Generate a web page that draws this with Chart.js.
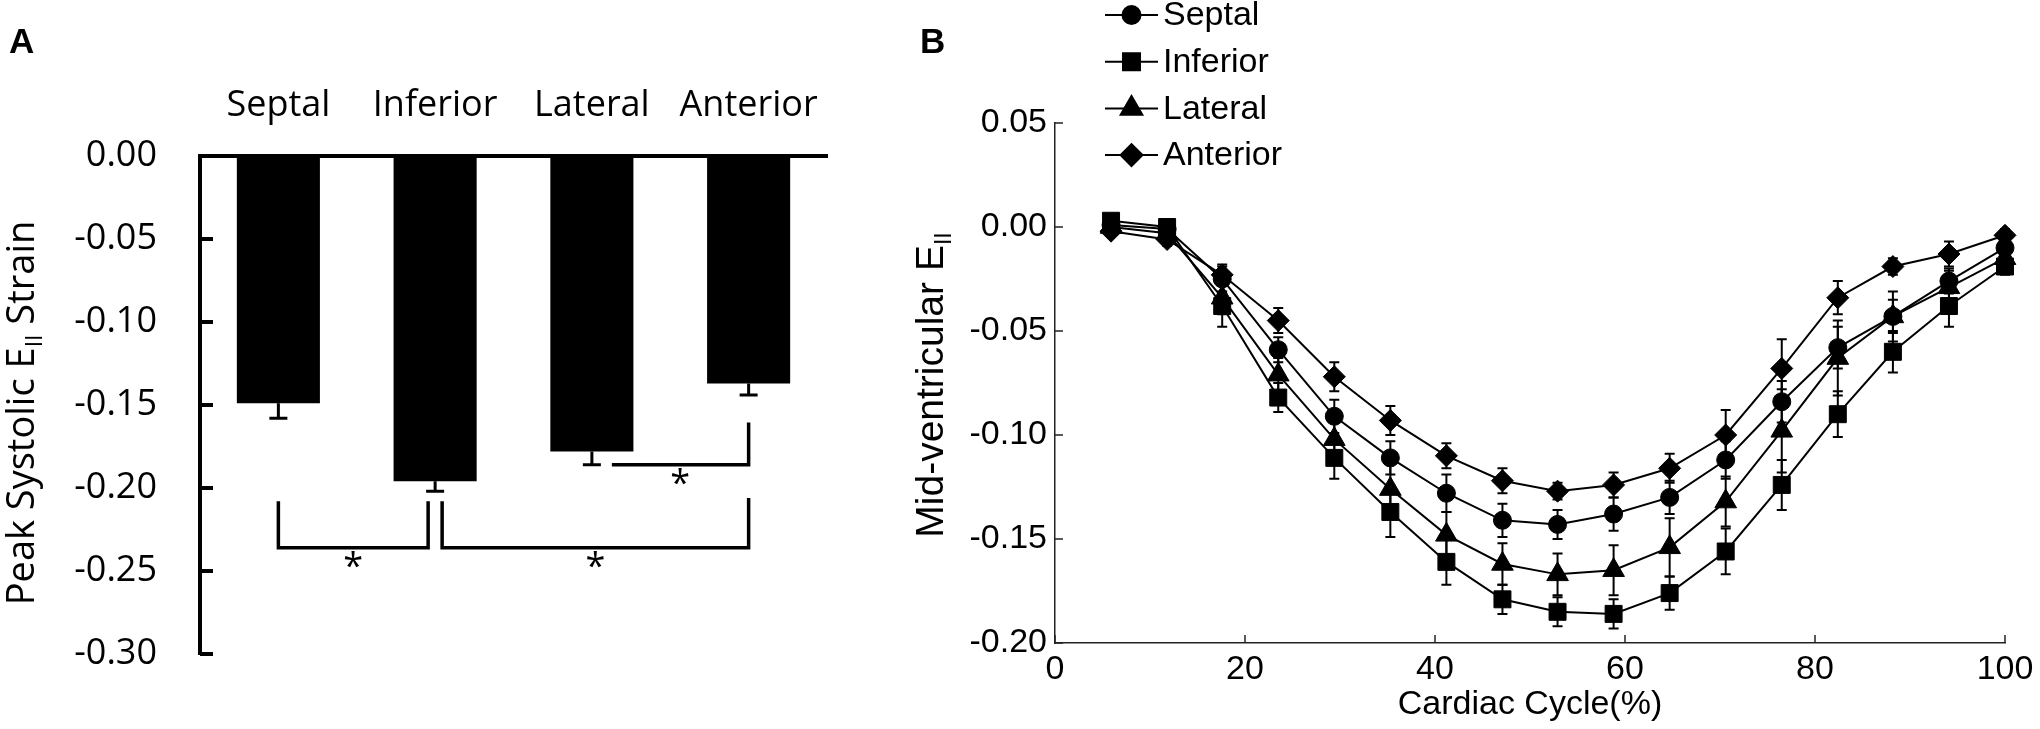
<!DOCTYPE html>
<html>
<head>
<meta charset="utf-8">
<script src="https://cdn.jsdelivr.net/npm/chart.js@4.4.1/dist/chart.umd.min.js"></script>
<style>
  html, body { margin: 0; padding: 0; background: #fff; }
  #wrap { position: relative; width: 2040px; height: 729px; }
  #panelA { position: absolute; left: 0; top: 0; }
  #panelB { position: absolute; left: 880px; top: 0; }
</style>
</head>
<body>
<div id="wrap">
  <canvas id="panelA" width="880" height="729"></canvas>
  <canvas id="panelB" width="1160" height="729"></canvas>
</div>
<script>
// --- panel A: peak systolic strain by region ---
const regions = ['Septal', 'Inferior', 'Lateral', 'Anterior'];
const peakStrain = [-0.149, -0.196, -0.178, -0.137];
const peakErr = [0.009, 0.006, 0.008, 0.007];
const strainTicks = [0, -0.05, -0.10, -0.15, -0.20, -0.25, -0.30];

// significance brackets (bar index from/to, leg ends, bar level)
const bracketFrom = [0, 1, 2];
const bracketTo = [1, 3, 3];
const bracketTopFrom = [-0.208, -0.208, -0.186];
const bracketTopTo = [-0.208, -0.206, -0.1605];
const bracketLevel = [-0.236, -0.236, -0.186];

// --- panel B: mid-ventricular strain over the cardiac cycle ---
const cycle = [5.9, 11.8, 17.6, 23.5, 29.4, 35.3, 41.2, 47.1, 52.9, 58.8, 64.7, 70.6, 76.5, 82.4, 88.2, 94.1, 100];
const septal   = [0.001, -0.001, -0.025, -0.059, -0.091, -0.111, -0.128, -0.141, -0.143, -0.138, -0.130, -0.112, -0.084, -0.058, -0.043, -0.026, -0.010];
const inferior = [0.003, 0.000, -0.038, -0.082, -0.111, -0.137, -0.161, -0.179, -0.185, -0.186, -0.176, -0.156, -0.124, -0.090, -0.060, -0.038, -0.019];
const lateral  = [0.000, -0.003, -0.034, -0.071, -0.102, -0.126, -0.148, -0.162, -0.167, -0.165, -0.154, -0.132, -0.098, -0.063, -0.043, -0.029, -0.015];
const anterior = [-0.002, -0.006, -0.023, -0.045, -0.072, -0.093, -0.110, -0.122, -0.127, -0.124, -0.116, -0.100, -0.068, -0.034, -0.019, -0.013, -0.004];
const septalErr   = [0.002, 0.004, 0.006, 0.006, 0.008, 0.008, 0.009, 0.008, 0.007, 0.008, 0.008, 0.009, 0.010, 0.010, 0.008, 0.006, 0.004];
const inferiorErr = [0.002, 0.003, 0.010, 0.007, 0.010, 0.012, 0.011, 0.007, 0.007, 0.007, 0.008, 0.011, 0.012, 0.011, 0.010, 0.010, 0.004];
const lateralErr  = [0.002, 0.004, 0.008, 0.008, 0.010, 0.012, 0.011, 0.010, 0.010, 0.012, 0.014, 0.012, 0.020, 0.018, 0.012, 0.008, 0.005];
const anteriorErr = [0.002, 0.003, 0.005, 0.006, 0.007, 0.007, 0.006, 0.006, 0.004, 0.006, 0.007, 0.012, 0.014, 0.008, 0.004, 0.006, 0.003];
const cycleTicks = [0, 20, 40, 60, 80, 100];
const midTicks = [0.05, 0, -0.05, -0.10, -0.15, -0.20];

const fontA = '"Open Sans"';
const fontB = '"Liberation Sans"';

// rotated axis title with an "II" subscript
function drawRotatedTitle(ctx, cx, cy, parts, family, size) {
  ctx.save();
  ctx.translate(cx, cy);
  ctx.rotate(-Math.PI / 2);
  ctx.fillStyle = '#000';
  ctx.textBaseline = 'alphabetic';
  ctx.textAlign = 'left';
  const fontFor = sub => (sub ? Math.round(size * 0.6) : size) + 'px ' + family;
  const widths = parts.map(([t, sub]) => { ctx.font = fontFor(sub); return ctx.measureText(t).width; });
  let xx = -widths.reduce((a, b) => a + b, 0) / 2;
  parts.forEach(([t, sub], i) => {
    ctx.font = fontFor(sub);
    ctx.fillText(t, xx, sub ? size * 0.2 : 0);
    xx += widths[i];
  });
  ctx.restore();
}

const panelAExtras = {
  id: 'panelAExtras',
  afterDatasetsDraw(chart) {
    const { ctx, scales: { x, y } } = chart;
    const meta = chart.getDatasetMeta(0);
    ctx.save();
    ctx.strokeStyle = '#000';

    // one-sided error bars
    ctx.lineWidth = 3;
    meta.data.forEach((bar, i) => {
      const y0 = y.getPixelForValue(peakStrain[i]);
      const y1 = y.getPixelForValue(peakStrain[i] - peakErr[i]);
      ctx.beginPath();
      ctx.moveTo(bar.x, y0);
      ctx.lineTo(bar.x, y1);
      ctx.moveTo(bar.x - 9, y1);
      ctx.lineTo(bar.x + 9, y1);
      ctx.stroke();
    });

    // inward ticks
    ctx.lineWidth = 4;
    y.ticks.forEach(t => {
      const py = y.getPixelForValue(t.value);
      ctx.beginPath();
      ctx.moveTo(y.right, py);
      ctx.lineTo(y.right + 13, py);
      ctx.stroke();
    });

    // brackets + stars
    const shiftFrom = [0, 7, 20];
    const shiftTo = [-7, 0, 0];
    ctx.lineWidth = 3.5;
    ctx.fillStyle = '#000';
    ctx.font = '36px ' + fontA;
    ctx.textAlign = 'center';
    ctx.textBaseline = 'top';
    bracketFrom.forEach((from, k) => {
      const xa = x.getPixelForValue(from) + shiftFrom[k];
      const xb = x.getPixelForValue(bracketTo[k]) + shiftTo[k];
      const yl = y.getPixelForValue(bracketLevel[k]);
      ctx.beginPath();
      ctx.moveTo(xa, y.getPixelForValue(bracketTopFrom[k]));
      ctx.lineTo(xa, yl);
      ctx.lineTo(xb, yl);
      ctx.lineTo(xb, y.getPixelForValue(bracketTopTo[k]));
      ctx.stroke();
      ctx.fillText('*', (xa + xb) / 2, yl + 2);
    });
    ctx.restore();
  },
  afterDraw(chart) {
    const { ctx } = chart;
    drawRotatedTitle(ctx, 34, 413, [['Peak Systolic E', false], ['II', true], [' Strain', false]], fontA, 38);
    ctx.save();
    ctx.fillStyle = '#000';
    ctx.font = 'bold 35px ' + fontB;
    ctx.textBaseline = 'alphabetic';
    ctx.fillText('A', 9, 53);
    ctx.restore();
  }
};

new Chart(document.getElementById('panelA'), {
  type: 'bar',
  data: {
    labels: regions,
    datasets: [{
      data: peakStrain,
      backgroundColor: '#000',
      borderWidth: 0,
      barPercentage: 0.53,
      categoryPercentage: 1
    }]
  },
  options: {
    responsive: false,
    animation: false,
    events: [],
    layout: { padding: { left: 0, right: 53, top: 0, bottom: 75 } },
    plugins: { legend: { display: false }, tooltip: { enabled: false } },
    scales: {
      x: {
        position: 'top',
        grid: { display: false, drawTicks: false },
        border: { display: true, color: '#000', width: 4 },
        ticks: { color: '#000', font: { family: fontA, size: 36 }, padding: 29 },
        afterFit: s => { s.height = 156; }
      },
      y: {
        min: -0.30,
        max: 0,
        afterBuildTicks: s => { s.ticks = strainTicks.map(v => ({ value: v })); },
        grid: { display: false, drawTicks: false },
        border: { display: true, color: '#000', width: 4 },
        ticks: {
          color: '#000',
          font: { family: fontA, size: 36 },
          padding: 43,
          callback: v => v.toFixed(2)
        },
        afterFit: s => { s.width = 200; }
      }
    }
  },
  plugins: [panelAExtras]
});

// --- panel B ---
const seriesNames = regions;
const seriesValues = [septal, inferior, lateral, anterior];
const seriesErr = [septalErr, inferiorErr, lateralErr, anteriorErr];
const markerStyle = ['circle', 'rect', 'triangle', 'rectRot'];
const markerRadius = [9, 12, 12.5, 11];

const panelBExtras = {
  id: 'panelBExtras',
  beforeDatasetsDraw(chart) {
    const { ctx, scales: { x, y } } = chart;
    ctx.save();
    ctx.strokeStyle = '#000';
    ctx.lineWidth = 2;
    seriesValues.forEach((vals, s) => {
      vals.forEach((v, i) => {
        const px = x.getPixelForValue(cycle[i]);
        const yTop = y.getPixelForValue(v + seriesErr[s][i]);
        const yBot = y.getPixelForValue(v - seriesErr[s][i]);
        ctx.beginPath();
        ctx.moveTo(px, yTop);
        ctx.lineTo(px, yBot);
        ctx.moveTo(px - 5, yTop);
        ctx.lineTo(px + 5, yTop);
        ctx.moveTo(px - 5, yBot);
        ctx.lineTo(px + 5, yBot);
        ctx.stroke();
      });
    });
    ctx.restore();
  },
  afterDraw(chart) {
    const { ctx, scales: { x, y } } = chart;
    ctx.save();
    // inward ticks
    ctx.strokeStyle = '#222';
    ctx.lineWidth = 1.5;
    y.ticks.forEach(t => {
      const py = y.getPixelForValue(t.value);
      ctx.beginPath();
      ctx.moveTo(x.left, py);
      ctx.lineTo(x.left + 8, py);
      ctx.stroke();
    });
    x.ticks.forEach(t => {
      const px = x.getPixelForValue(t.value);
      ctx.beginPath();
      ctx.moveTo(px, y.bottom);
      ctx.lineTo(px, y.bottom - 8);
      ctx.stroke();
    });

    // legend: line through marker
    ctx.fillStyle = '#000';
    ctx.strokeStyle = '#000';
    ctx.font = '34px ' + fontB;
    ctx.textBaseline = 'middle';
    ctx.textAlign = 'left';
    seriesNames.forEach((name, i) => {
      const ly = 15 + i * 46.7;
      ctx.lineWidth = 2;
      ctx.beginPath();
      ctx.moveTo(225, ly);
      ctx.lineTo(278, ly);
      ctx.stroke();
      Chart.helpers.drawPoint(ctx, { pointStyle: markerStyle[i], radius: markerRadius[i], rotation: 0, borderWidth: 1 }, 251.5, ly);
      ctx.fillText(name, 283, ly + 1);
    });

    ctx.font = 'bold 35px ' + fontB;
    ctx.textBaseline = 'alphabetic';
    ctx.fillText('B', 40, 53);
    ctx.restore();
    drawRotatedTitle(ctx, 63, 385, [['Mid-ventricular E', false], ['II', true]], fontB, 39);
  }
};

new Chart(document.getElementById('panelB'), {
  type: 'line',
  data: {
    datasets: seriesValues.map((vals, s) => ({
      label: seriesNames[s],
      data: vals.map((v, i) => ({ x: cycle[i], y: v })),
      borderColor: '#000',
      borderWidth: 2,
      backgroundColor: '#000',
      pointStyle: markerStyle[s],
      pointRadius: markerRadius[s],
      pointBackgroundColor: '#000',
      pointBorderColor: '#000',
      pointBorderWidth: 1,
      tension: 0,
      clip: false
    }))
  },
  options: {
    responsive: false,
    animation: false,
    events: [],
    layout: { padding: { left: 0, right: 35, top: 123, bottom: 0 } },
    plugins: { legend: { display: false }, tooltip: { enabled: false } },
    scales: {
      x: {
        type: 'linear',
        min: 0,
        max: 100,
        afterBuildTicks: s => { s.ticks = cycleTicks.map(v => ({ value: v })); },
        grid: { display: false, drawTicks: false },
        border: { display: true, color: '#222', width: 1.5 },
        ticks: { color: '#000', font: { family: fontB, size: 34 }, padding: 6, maxRotation: 0, autoSkip: false },
        title: { display: true, text: 'Cardiac Cycle(%)', color: '#000', font: { family: fontB, size: 34 }, padding: { top: 0, bottom: 4 } },
        afterFit: s => { s.height = 86; }
      },
      y: {
        min: -0.20,
        max: 0.05,
        afterBuildTicks: s => { s.ticks = midTicks.map(v => ({ value: v })); },
        grid: { display: false, drawTicks: false },
        border: { display: true, color: '#222', width: 1.5 },
        ticks: { color: '#000', font: { family: fontB, size: 34 }, padding: 8, callback: v => v.toFixed(2) },
        afterFit: s => { s.width = 175; }
      }
    }
  },
  plugins: [panelBExtras]
});
</script>
</body>
</html>
